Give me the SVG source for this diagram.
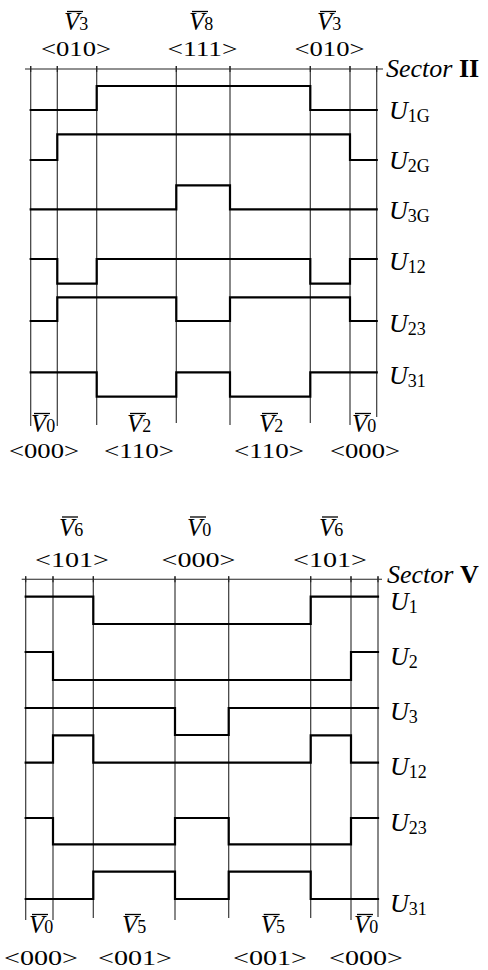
<svg xmlns="http://www.w3.org/2000/svg" width="488" height="970" viewBox="0 0 488 970">
<style>
.grid{stroke:#3a3a3a;stroke-width:1.2;fill:none}
.axis{stroke:#222;stroke-width:1.1;fill:none}
.wave{stroke:#000;stroke-width:2.2;fill:none;stroke-linejoin:miter;stroke-linecap:square}
.bar{stroke:#000;stroke-width:1.3}
text{font-family:"Liberation Serif","Times New Roman",serif;fill:#000}
.v{font-size:25px;font-style:italic}
.sub{font-size:18px;font-style:normal}
.code{font-size:22px}
.u{font-size:26px;font-style:italic}
.usub{font-size:18px;font-style:normal}
.sec{font-size:26px}
</style>
<rect width="488" height="970" fill="#fff"/>

<!-- ===== Sector II ===== -->
<g id="sector2-grid">
<line class="axis" x1="25" y1="69" x2="383" y2="69"/>
<path class="grid" d="M30.7,66V426 M57.3,66V426 M96.7,66V425 M176.3,66V423 M230,66V425 M310.3,66V423 M350,66V425 M376.7,66V417"/>
<path class="axis" d="M30.7,66V72 M57.3,66V72 M96.7,66V72 M176.3,66V72 M230,66V72 M310.3,66V72 M350,66V72 M376.7,66V72"/>
</g>
<g id="sector2-waves">
<path class="wave" d="M30.7,110H96.7V86H310.3V110H376.7"/>
<path class="wave" d="M30.7,160H57.3V134.3H350V160H376.7"/>
<path class="wave" d="M30.7,209.3H176.3V185.3H230V209.3H376.7"/>
<path class="wave" d="M30.7,259H57.3V283.7H96.7V259H310.3V283.7H350V259H376.7"/>
<path class="wave" d="M30.7,321H57.3V297.3H176.3V321H230V297.3H350V321H376.7"/>
<path class="wave" d="M30.7,372.3H96.7V396.7H176.3V372.3H230V396.7H310.3V372.3H376.7"/>
</g>
<g id="sector2-title">
<text class="sec" x="386" y="77"><tspan font-style="italic">Sector</tspan> <tspan font-weight="bold">II</tspan></text>
</g>
<g id="sector2-signal-labels">
<text class="u" x="389" y="119">U<tspan class="usub" dy="3">1G</tspan></text>
<text class="u" x="389" y="169">U<tspan class="usub" dy="3">2G</tspan></text>
<text class="u" x="389" y="219">U<tspan class="usub" dy="3">3G</tspan></text>
<text class="u" x="389" y="270">U<tspan class="usub" dy="3">12</tspan></text>
<text class="u" x="389" y="332">U<tspan class="usub" dy="3">23</tspan></text>
<text class="u" x="389" y="384">U<tspan class="usub" dy="3">31</tspan></text>
</g>
<g id="sector2-top-vectors">
<text class="v" x="64" y="30">V<tspan class="sub">3</tspan></text>
<line class="bar" x1="67" y1="11.5" x2="83" y2="11.5"/>
<text class="v" x="189" y="30">V<tspan class="sub">8</tspan></text>
<line class="bar" x1="192" y1="11.5" x2="208" y2="11.5"/>
<text class="v" x="317" y="30">V<tspan class="sub">3</tspan></text>
<line class="bar" x1="320" y1="11.5" x2="336" y2="11.5"/>
<text class="code" x="41" y="56" textLength="70" lengthAdjust="spacingAndGlyphs">&lt;010&gt;</text>
<text class="code" x="167.5" y="56" textLength="70" lengthAdjust="spacingAndGlyphs">&lt;111&gt;</text>
<text class="code" x="294.5" y="56" textLength="70" lengthAdjust="spacingAndGlyphs">&lt;010&gt;</text>
</g>
<g id="sector2-bottom-vectors">
<text class="v" x="31" y="432">V<tspan class="sub">0</tspan></text>
<line class="bar" x1="34" y1="413.5" x2="50" y2="413.5"/>
<text class="v" x="127" y="432">V<tspan class="sub">2</tspan></text>
<line class="bar" x1="130" y1="413.5" x2="146" y2="413.5"/>
<text class="v" x="259" y="432">V<tspan class="sub">2</tspan></text>
<line class="bar" x1="262" y1="413.5" x2="278" y2="413.5"/>
<text class="v" x="352" y="432">V<tspan class="sub">0</tspan></text>
<line class="bar" x1="355" y1="413.5" x2="371" y2="413.5"/>
<text class="code" x="9" y="458" textLength="70" lengthAdjust="spacingAndGlyphs">&lt;000&gt;</text>
<text class="code" x="104" y="458" textLength="70" lengthAdjust="spacingAndGlyphs">&lt;110&gt;</text>
<text class="code" x="234" y="458" textLength="70" lengthAdjust="spacingAndGlyphs">&lt;110&gt;</text>
<text class="code" x="330" y="458" textLength="70" lengthAdjust="spacingAndGlyphs">&lt;000&gt;</text>
</g>

<!-- ===== Sector V ===== -->
<g id="sector5-grid">
<line class="axis" x1="21.7" y1="579.3" x2="382" y2="579.3"/>
<path class="grid" d="M25.7,576.3V920 M53,576.3V920 M93.3,576.3V918 M175,576.3V920 M228.7,576.3V918 M310.7,576.3V918 M351,576.3V920 M378,576.3V917"/>
<path class="axis" d="M25.7,576.3V582.3 M53,576.3V582.3 M93.3,576.3V582.3 M175,576.3V582.3 M228.7,576.3V582.3 M310.7,576.3V582.3 M351,576.3V582.3 M378,576.3V582.3"/>
</g>
<g id="sector5-waves">
<path class="wave" d="M25.7,596.7H93.3V624H310.7V596.7H378"/>
<path class="wave" d="M25.7,652H53V680H351V652H378"/>
<path class="wave" d="M25.7,708H175V735H228.7V708H378"/>
<path class="wave" d="M25.7,762.7H53V735.3H93.3V762.7H310.7V735.3H351V762.7H378"/>
<path class="wave" d="M25.7,818H53V844.3H175V818H228.7V844.3H351V818H378"/>
<path class="wave" d="M25.7,899H93.3V871.7H175V899H228.7V871.7H310.7V899H378"/>
</g>
<g id="sector5-title">
<text class="sec" x="387" y="583"><tspan font-style="italic">Sector</tspan> <tspan font-weight="bold">V</tspan></text>
</g>
<g id="sector5-signal-labels">
<text class="u" x="390" y="610">U<tspan class="usub" dy="3">1</tspan></text>
<text class="u" x="390" y="665">U<tspan class="usub" dy="3">2</tspan></text>
<text class="u" x="390" y="720">U<tspan class="usub" dy="3">3</tspan></text>
<text class="u" x="390" y="775">U<tspan class="usub" dy="3">12</tspan></text>
<text class="u" x="390" y="831">U<tspan class="usub" dy="3">23</tspan></text>
<text class="u" x="390" y="912">U<tspan class="usub" dy="3">31</tspan></text>
</g>
<g id="sector5-top-vectors">
<text class="v" x="59" y="536">V<tspan class="sub">6</tspan></text>
<line class="bar" x1="62" y1="517" x2="78" y2="517"/>
<text class="v" x="187" y="536">V<tspan class="sub">0</tspan></text>
<line class="bar" x1="190" y1="517" x2="206" y2="517"/>
<text class="v" x="319" y="536">V<tspan class="sub">6</tspan></text>
<line class="bar" x1="322" y1="517" x2="338" y2="517"/>
<text class="code" x="35" y="567" textLength="74" lengthAdjust="spacingAndGlyphs">&lt;101&gt;</text>
<text class="code" x="161.5" y="567" textLength="74" lengthAdjust="spacingAndGlyphs">&lt;000&gt;</text>
<text class="code" x="293" y="567" textLength="74" lengthAdjust="spacingAndGlyphs">&lt;101&gt;</text>
</g>
<g id="sector5-bottom-vectors">
<text class="v" x="29" y="933">V<tspan class="sub">0</tspan></text>
<line class="bar" x1="32" y1="914.5" x2="48" y2="914.5"/>
<text class="v" x="122" y="933">V<tspan class="sub">5</tspan></text>
<line class="bar" x1="125" y1="914.5" x2="141" y2="914.5"/>
<text class="v" x="260.7" y="933">V<tspan class="sub">5</tspan></text>
<line class="bar" x1="263.7" y1="914.5" x2="279.7" y2="914.5"/>
<text class="v" x="354" y="933">V<tspan class="sub">0</tspan></text>
<line class="bar" x1="357" y1="914.5" x2="373" y2="914.5"/>
<text class="code" x="4" y="965" textLength="74" lengthAdjust="spacingAndGlyphs">&lt;000&gt;</text>
<text class="code" x="98" y="965" textLength="74" lengthAdjust="spacingAndGlyphs">&lt;001&gt;</text>
<text class="code" x="233" y="965" textLength="74" lengthAdjust="spacingAndGlyphs">&lt;001&gt;</text>
<text class="code" x="329" y="965" textLength="74" lengthAdjust="spacingAndGlyphs">&lt;000&gt;</text>
</g>
</svg>
